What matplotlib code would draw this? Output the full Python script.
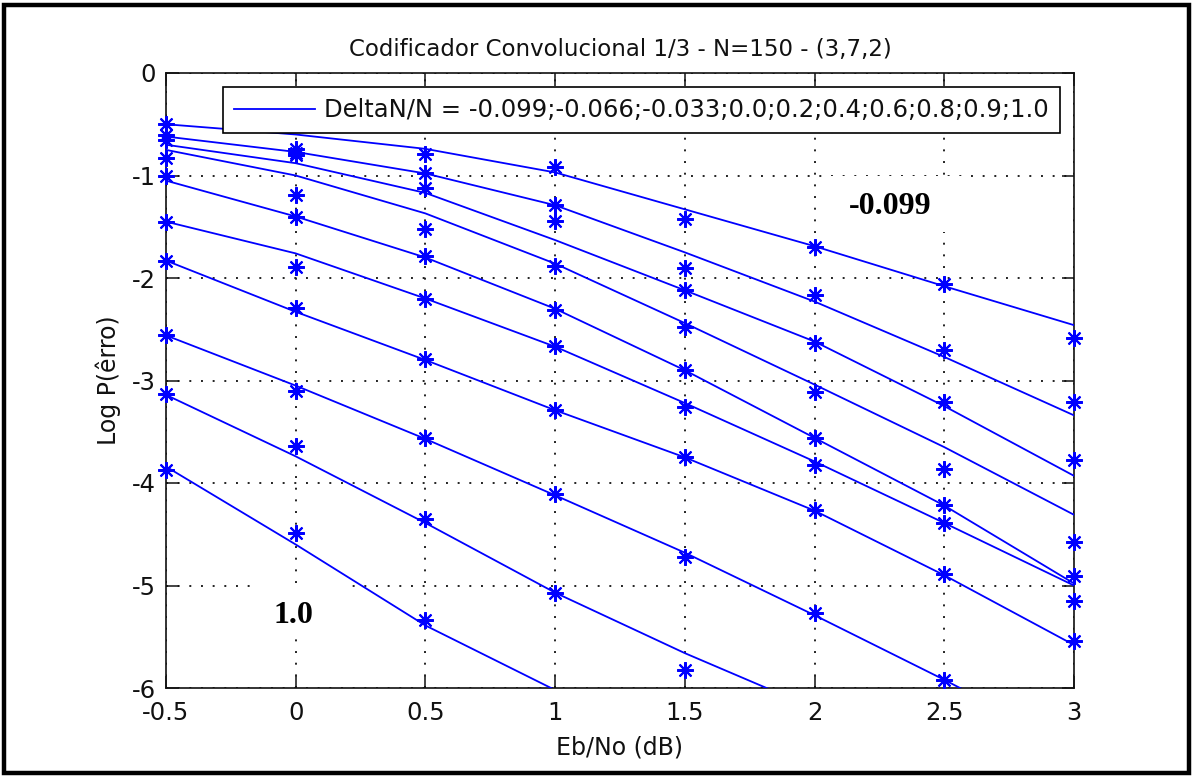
import numpy as np
import matplotlib
matplotlib.use("Agg")
import matplotlib.pyplot as plt
from matplotlib.patches import Rectangle

# ---------------- data ----------------
ebno = [-0.5, 0.0, 0.5, 1.0, 1.5, 2.0, 2.5, 3.0]
delta_labels = ["-0.099", "-0.066", "-0.033", "0.0", "0.2", "0.4", "0.6", "0.8", "0.9", "1.0"]
nan = np.nan

# measured points (asterisks)
pts_m0099 = [-0.50, -0.74, -0.79, -0.92, -1.42, -1.70, -2.06, -2.59]
pts_m0066 = [-0.60, -0.78, -0.98, -1.29, -1.90, -2.17, -2.70, -3.21]
pts_m0033 = [-0.65, -0.80, -1.12, -1.44, -2.12, -2.63, -3.21, -3.78]
pts_00 = [-0.83, -1.19, -1.52, -1.88, -2.48, -3.11, -3.86, -4.58]
pts_02 = [-1.00, -1.40, -1.79, -2.31, -2.90, -3.56, -4.21, -4.91]
pts_04 = [-1.45, -1.89, -2.20, -2.66, -3.26, -3.82, -4.39, -5.15]
pts_06 = [-1.83, -2.29, -2.79, -3.29, -3.75, -4.26, -4.89, -5.54]
pts_08 = [-2.56, -3.10, -3.56, -4.11, -4.72, -5.27, -5.92, nan]
pts_09 = [-3.13, -3.64, -4.35, -5.07, -5.82, nan, nan, nan]
pts_10 = [-3.87, -4.49, -5.34, nan, nan, nan, nan, nan]

# fitted curves (solid lines), read at the same abscissas
fit_m0099 = [-0.50, -0.60, -0.74, -0.97, -1.33, -1.69, -2.08, -2.46]
fit_m0066 = [-0.62, -0.77, -0.98, -1.29, -1.75, -2.23, -2.77, -3.34]
fit_m0033 = [-0.70, -0.88, -1.17, -1.63, -2.12, -2.62, -3.25, -3.93]
fit_00 = [-0.75, -1.00, -1.37, -1.86, -2.44, -3.04, -3.65, -4.31]
fit_02 = [-1.05, -1.40, -1.80, -2.30, -2.90, -3.56, -4.22, -4.98]
fit_04 = [-1.45, -1.76, -2.20, -2.67, -3.22, -3.79, -4.39, -5.00]
fit_06 = [-1.83, -2.33, -2.80, -3.29, -3.75, -4.27, -4.90, -5.58]
fit_08 = [-2.56, -3.05, -3.57, -4.12, -4.68, -5.29, -5.92, -6.58]
fit_09 = [-3.14, -3.74, -4.39, -5.07, -5.66, -6.20, nan, nan]
fit_10 = [-3.84, -4.60, -5.39, -6.02, -6.60, nan, nan, nan]

points = [pts_m0099, pts_m0066, pts_m0033, pts_00, pts_02, pts_04, pts_06, pts_08, pts_09, pts_10]
fits = [fit_m0099, fit_m0066, fit_m0033, fit_00, fit_02, fit_04, fit_06, fit_08, fit_09, fit_10]

x_ticks = [-0.5, 0, 0.5, 1, 1.5, 2, 2.5, 3]
x_ticklabels = ["-0.5", "0", "0.5", "1", "1.5", "2", "2.5", "3"]
y_ticks = [-6, -5, -4, -3, -2, -1, 0]
y_ticklabels = ["-6", "-5", "-4", "-3", "-2", "-1", "0"]

title = "Codificador Convolucional 1/3 - N=150 - (3,7,2)"
legend_text = "DeltaN/N = " + ";".join(delta_labels)

# ---------------- plot ----------------
plt.rcParams["font.family"] = ["DejaVu Sans"]
W, H = 1194, 776
fig = plt.figure(figsize=(W / 100, H / 100), dpi=100)
ax = fig.add_axes([166 / W, 1 - 688 / H, (1074 - 166) / W, (688 - 73) / H])

blue = "#0000FF"
ast = (8, 2, 0)
for i, (p, f) in enumerate(zip(points, fits)):
    ax.plot(ebno, p, linestyle="none", marker=ast, markersize=12, markeredgewidth=1.5,
            color=blue, zorder=3, clip_on=False)
    ax.plot(ebno, f, "-", color=blue, linewidth=1.3, zorder=3,
            label=legend_text if i == 0 else None)

ax.set_xlim(-0.5, 3)
ax.set_ylim(-6, 0)
ax.set_xticks(x_ticks)
ax.set_xticklabels(x_ticklabels)
ax.set_yticks(y_ticks)
ax.set_yticklabels(y_ticklabels)
ax.tick_params(direction="in", length=9, width=1.1, labelsize=17.5, top=True, right=True,
               colors="#111111")
ax.tick_params(axis="x", pad=9)
ax.tick_params(axis="y", pad=7)
# keep the "-6" label from touching "-0.5"
ax.get_yticklabels()[0].set_verticalalignment("center_baseline")
ax.grid(True, color="#222222", linestyle=(0, (1, 5)), linewidth=1.4)
ax.set_axisbelow(True)
for s in ax.spines.values():
    s.set_linewidth(1.2)
    s.set_color("#111111")

ax.set_title(title, fontsize=16.5, pad=12, color="#111111")
ax.set_xlabel("Eb/No (dB)", fontsize=17, labelpad=8, color="#111111")
ax.set_ylabel("Log P(êrro)", fontsize=17, labelpad=8, color="#111111")

leg = ax.legend(loc="upper right", bbox_to_anchor=(0.9846, 0.977), borderaxespad=0,
                fontsize=17.5, handlelength=3.3, handletextpad=0.4, borderpad=0.45,
                fancybox=False, framealpha=1, edgecolor="black")
leg.get_frame().set_linewidth(1.2)
for t in leg.get_texts():
    t.set_color("#111111")

# label boxes
ax.add_patch(Rectangle((0.7236, 0.7415), 0.883 - 0.7236, 0.8325 - 0.7415,
                       transform=ax.transAxes, facecolor="white", edgecolor="none", zorder=2))
ax.add_patch(Rectangle((0.0925, 0.0862), 0.2004 - 0.0925, 0.1675 - 0.0862,
                       transform=ax.transAxes, facecolor="white", edgecolor="none", zorder=2))
ax.text(2.29, -1.30, "-0.099", fontsize=23, fontweight="bold", family="Liberation Serif",
        ha="center", va="center", zorder=4)
ax.text(-0.01, -5.29, "1.0", fontsize=23, fontweight="bold", family="Liberation Serif",
        ha="center", va="center", zorder=4)

# outer black frame
fig.patches.append(Rectangle((4 / W, 3 / H), (W - 9) / W, (H - 8) / H, transform=fig.transFigure,
                             fill=False, edgecolor="black", linewidth=3.2))

fig.savefig("out.png", dpi=100)
